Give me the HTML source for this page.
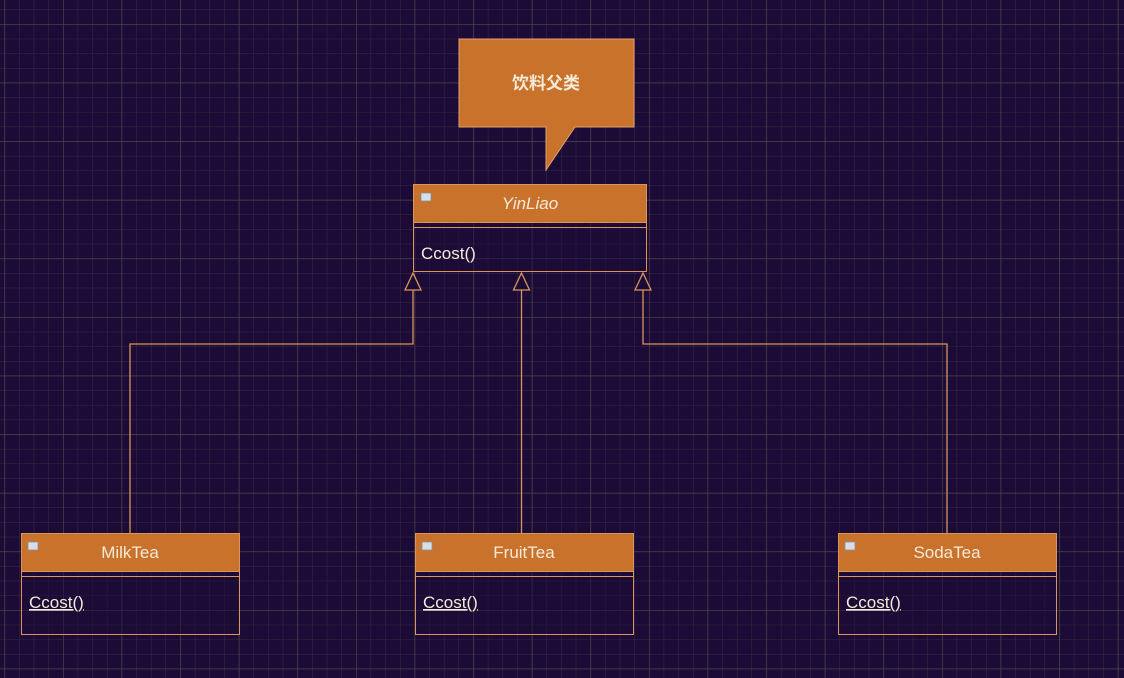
<!DOCTYPE html>
<html><head><meta charset="utf-8"><style>
html,body{margin:0;padding:0;background:#1c0b36;}
svg{display:block}
text{font-family:"Liberation Sans","Noto Sans CJK SC",sans-serif;fill:#f6ead8}
</style></head><body>
<svg width="1124" height="678" viewBox="0 0 1124 678" xmlns="http://www.w3.org/2000/svg">
<defs>
<pattern id="minor" x="4.4" y="9.4" width="14.65" height="14.65" patternUnits="userSpaceOnUse">
<path d="M0 0H14.65M0 0V14.65" stroke="#372a45" stroke-width="1" fill="none"/>
</pattern>
<pattern id="major" x="4.4" y="24" width="58.6" height="58.6" patternUnits="userSpaceOnUse">
<path d="M0 0H58.6M0 0V58.6" stroke="#504c4a" stroke-width="1.2" fill="none"/>
</pattern>
</defs>
<rect width="1124" height="678" fill="#1c0b36"/>
<rect width="1124" height="678" fill="url(#minor)"/>
<rect width="1124" height="678" fill="url(#major)"/>

<path d="M459 39H634V127H575L546 170V127H459Z" fill="#c8722c" stroke="#e0a070" stroke-width="1"/>
<text x="546" y="89" font-size="17" font-weight="bold" text-anchor="middle">饮料父类</text>

<g stroke="#d9955a" stroke-width="1.3" fill="none">
<path d="M413 290V344H130V533"/>
<path d="M521.5 290V533"/>
<path d="M643 290V344H947V533"/>
<path d="M413 273L405 290H421Z" fill="#1c0b36"/>
<path d="M521.5 273L513.5 290H529.5Z" fill="#1c0b36"/>
<path d="M643 273L635 290H651Z" fill="#1c0b36"/>
</g>

<g>
<rect x="413.5" y="184.5" width="233" height="87" fill="#1c0b36" fill-opacity="0.5" stroke="#d9955a"/>
<rect x="413.5" y="184.5" width="233" height="38" fill="#c8722c" stroke="#d9955a"/>
<line x1="413.5" y1="227.5" x2="646.5" y2="227.5" stroke="#d9955a"/>
<rect x="421" y="193" width="10" height="8" fill="#d8dde6" stroke="#8890a0" stroke-width="0.8"/>
<text x="530" y="209" font-size="17" font-style="italic" text-anchor="middle">YinLiao</text>
<text x="421" y="259" font-size="17">Ccost()</text>
</g>

<g>
<rect x="21.5" y="533.5" width="218" height="101" fill="#1c0b36" fill-opacity="0.5" stroke="#d9955a"/>
<rect x="21.5" y="533.5" width="218" height="38" fill="#c8722c" stroke="#d9955a"/>
<line x1="21.5" y1="576.5" x2="239.5" y2="576.5" stroke="#d9955a"/>
<rect x="28" y="542" width="10" height="8" fill="#d8dde6" stroke="#8890a0" stroke-width="0.8"/>
<text x="130" y="558" font-size="17" text-anchor="middle">MilkTea</text>
<text x="29" y="608" font-size="17" text-decoration="underline">Ccost()</text>
</g>

<g>
<rect x="415.5" y="533.5" width="218" height="101" fill="#1c0b36" fill-opacity="0.5" stroke="#d9955a"/>
<rect x="415.5" y="533.5" width="218" height="38" fill="#c8722c" stroke="#d9955a"/>
<line x1="415.5" y1="576.5" x2="633.5" y2="576.5" stroke="#d9955a"/>
<rect x="422" y="542" width="10" height="8" fill="#d8dde6" stroke="#8890a0" stroke-width="0.8"/>
<text x="524" y="558" font-size="17" text-anchor="middle">FruitTea</text>
<text x="423" y="608" font-size="17" text-decoration="underline">Ccost()</text>
</g>

<g>
<rect x="838.5" y="533.5" width="218" height="101" fill="#1c0b36" fill-opacity="0.5" stroke="#d9955a"/>
<rect x="838.5" y="533.5" width="218" height="38" fill="#c8722c" stroke="#d9955a"/>
<line x1="838.5" y1="576.5" x2="1056.5" y2="576.5" stroke="#d9955a"/>
<rect x="845" y="542" width="10" height="8" fill="#d8dde6" stroke="#8890a0" stroke-width="0.8"/>
<text x="947" y="558" font-size="17" text-anchor="middle">SodaTea</text>
<text x="846" y="608" font-size="17" text-decoration="underline">Ccost()</text>
</g>
</svg>
</body></html>
